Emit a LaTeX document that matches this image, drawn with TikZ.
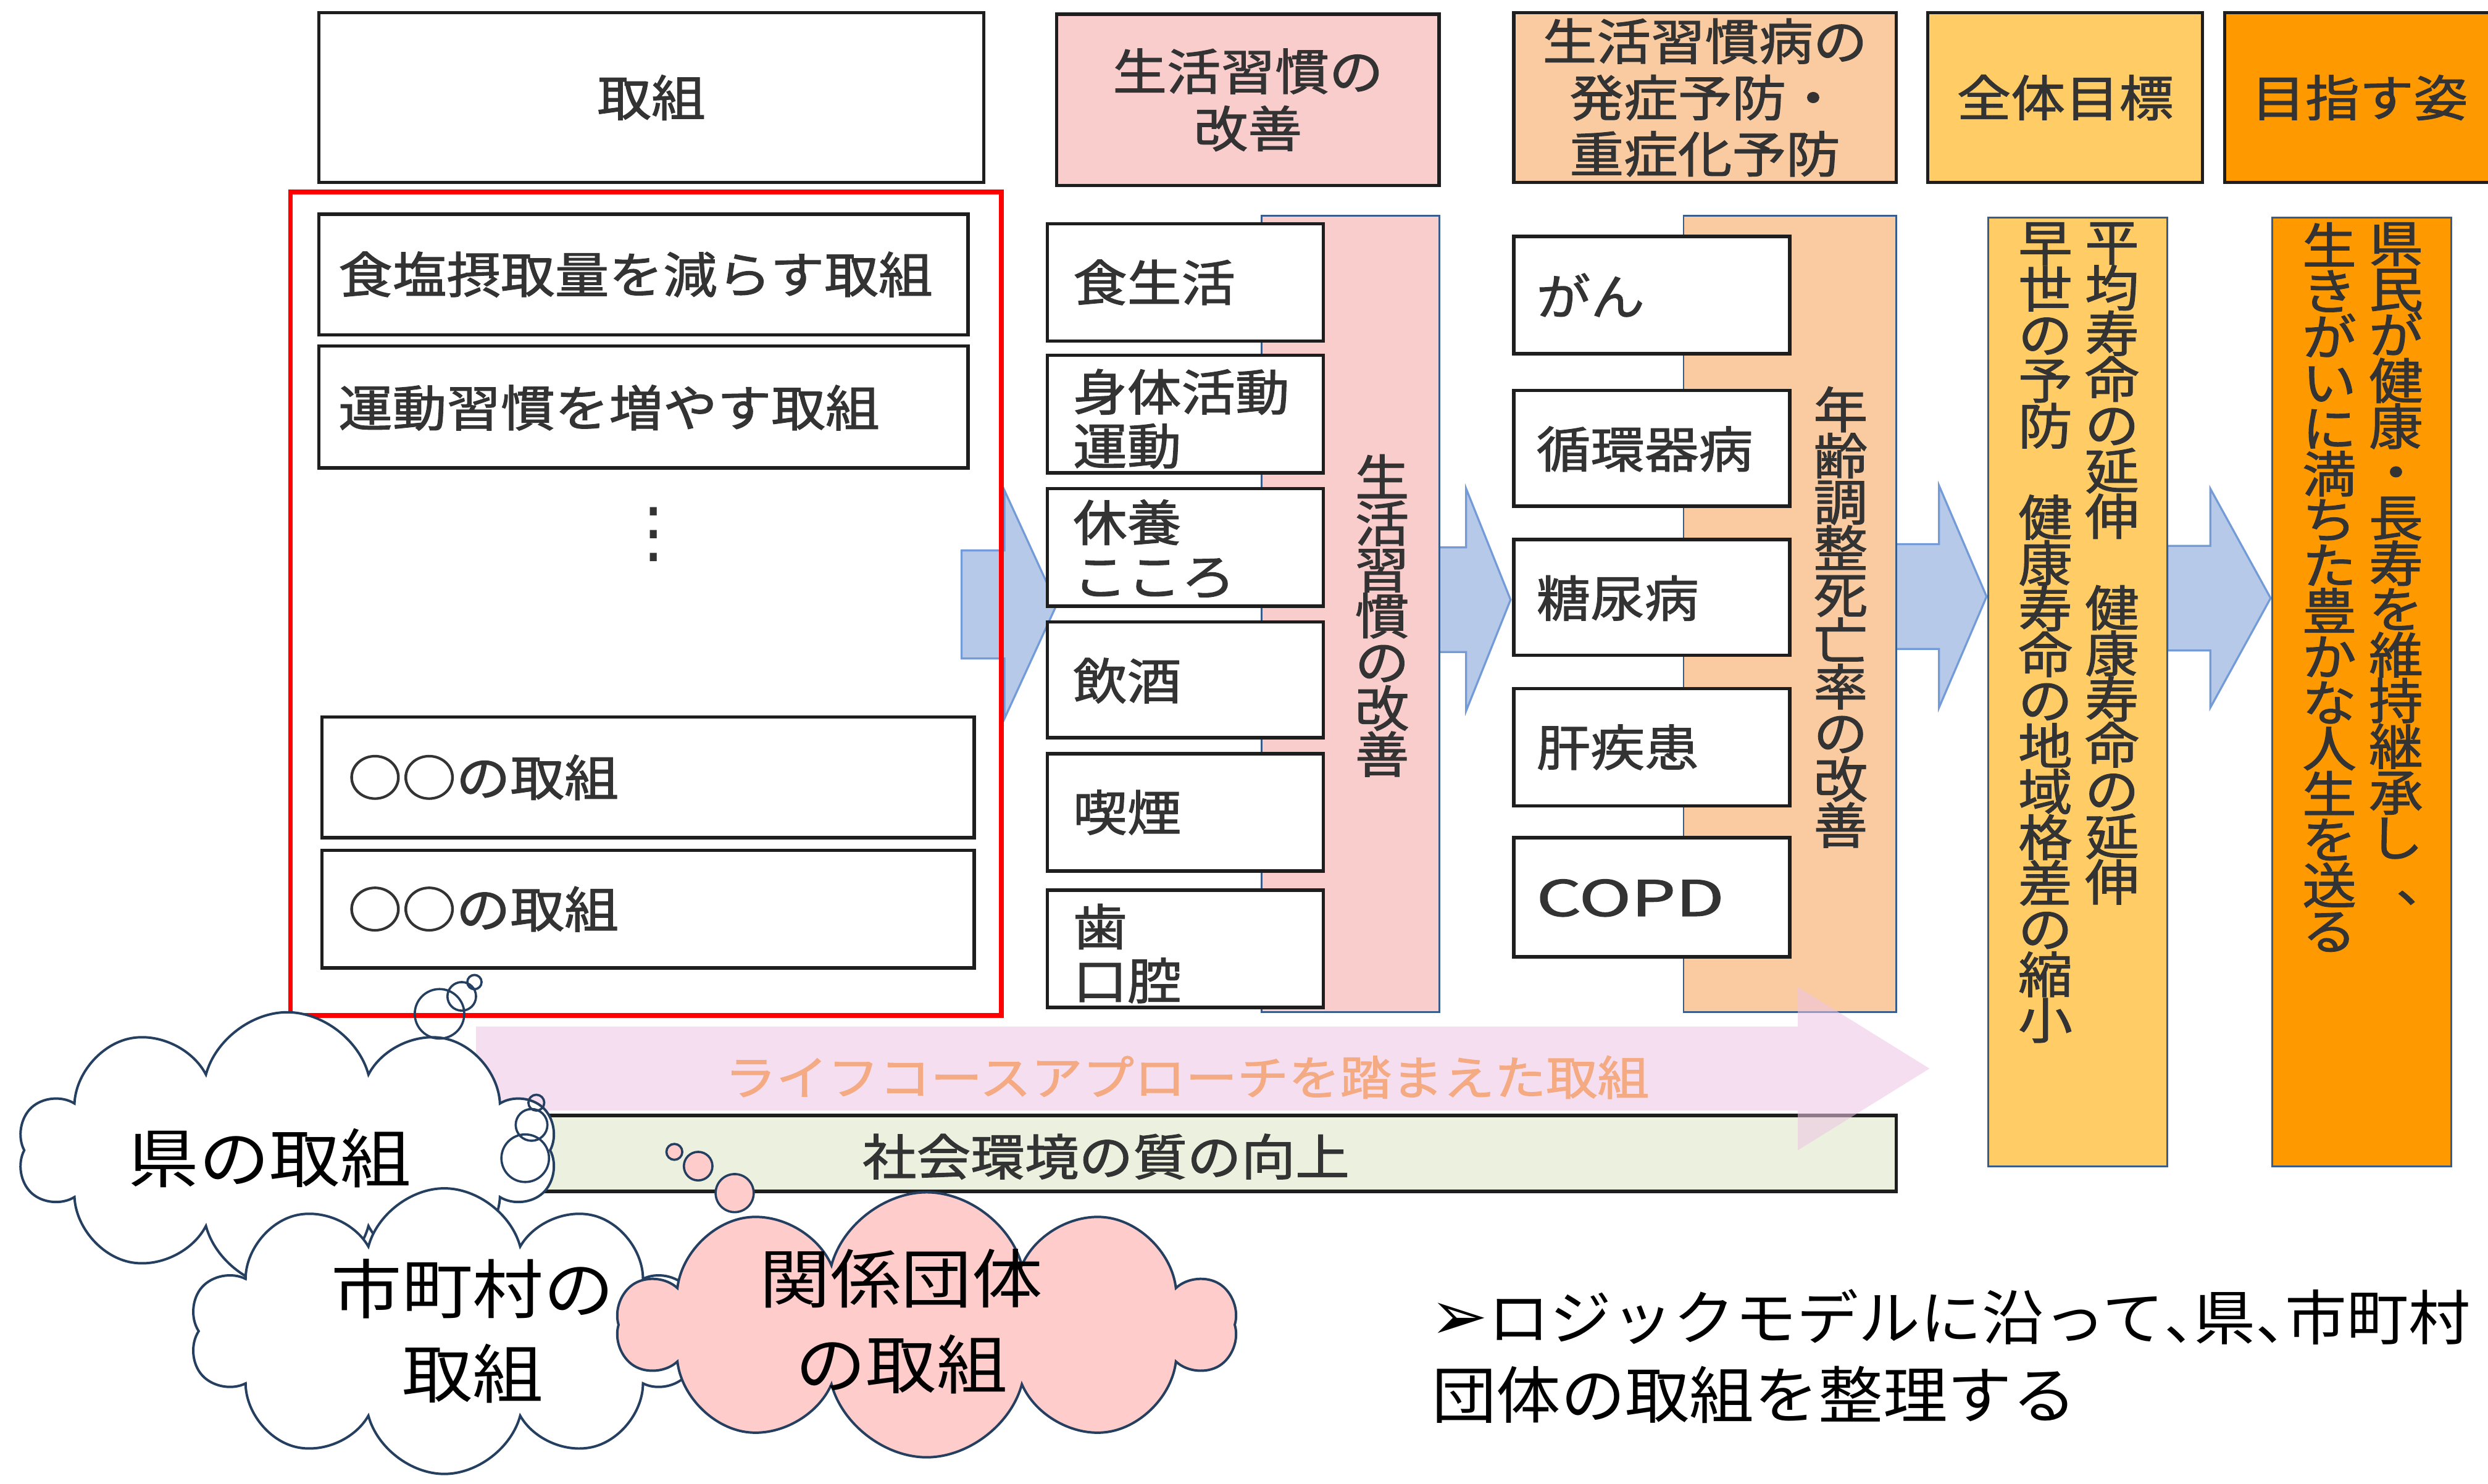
\documentclass[tikz,border=0pt]{standalone}
\usepackage{graphicx}
\usepackage{fontspec}
\usetikzlibrary{shapes.symbols}
\setmainfont{Noto Sans CJK JP}[FakeStretch=1.1, FakeBold=1.5]
\newfontfamily\plainfont{Noto Sans CJK JP}[FakeStretch=1.1]
\newfontfamily\notefont{Noto Sans CJK JP}[FakeStretch=1.04]
\newfontfamily\symfont{DejaVu Sans}
\definecolor{ink}{HTML}{333333}
\definecolor{edge}{HTML}{1E1E1E}
\definecolor{pinkA}{RGB}{250,205,205}
\definecolor{peachA}{RGB}{250,203,160}
\definecolor{goalA}{RGB}{255,204,102}
\definecolor{orangeA}{RGB}{255,153,0}
\definecolor{greenA}{HTML}{EBF1DE}
\definecolor{blueF}{RGB}{182,201,232}
\definecolor{blueD}{RGB}{115,155,215}
\definecolor{navy}{HTML}{243F60}
\definecolor{lifeF}{RGB}{236,196,228}
\definecolor{lifeT}{RGB}{244,170,130}
\definecolor{cloudP}{RGB}{255,204,204}
\definecolor{barD}{HTML}{385D8A}
\newcommand{\bx}[6][]{\node[#1, minimum width={(#5-#3)*0.025cm}, minimum height={(#6-#4)*0.025cm}, inner sep=0pt] (#2) at ({(#3+#5)/2},{(#4+#6)/2}) {};}
\newcommand{\blockarrow}[6]{\filldraw[blarrow] (#1,{#4-#5}) -- (#2,{#4-#5}) -- (#2,{#4-#6}) -- (#3,#4) -- (#2,{#4+#6}) -- (#2,{#4+#5}) -- (#1,{#4+#5}) -- cycle;}
\newcommand{\vcomma}{\makebox[1em][l]{\hspace{0.5em}、}}
\begin{document}
\begin{tikzpicture}[x=0.025cm, y=-0.025cm,
  boxW/.style={draw=edge, line width=1.5pt, fill=white},
  barbox/.style={draw=barD, line width=0.8pt},
  blarrow/.style={fill=blueF, draw=blueD, line width=0.9pt},
  tx/.style={text=ink, inner sep=0pt, font=\fontsize{22.05pt}{24.19pt}\selectfont},
  vt/.style={text=ink, inner sep=0pt, align=center, font=\fontsize{22.05pt}{20.49pt}\selectfont},
  cloudS/.style={cloud, cloud puffs=10, cloud ignores aspect, draw=navy, line width=1.1pt, inner sep=0pt},
  bub/.style={draw=navy, line width=1pt},
  cloudtx/.style={text=black, inner sep=0pt, align=center, font=\plainfont\fontsize{28.8pt}{37.7pt}\selectfont}]
\useasboundingbox (0,0) rectangle (1568,935);
\fill[white] (0,0) rectangle (1568,935);
\begin{scope}
\clip (0,0) rectangle (1568,935);

% headers
\bx[boxW]{h1}{201}{8}{620}{115}
\node[tx] (h1t) at (h1) {取組};
\bx[boxW, fill=pinkA]{h2}{666}{9}{907}{117}
\node[tx, align=center, font=\fontsize{22.05pt}{25.61pt}\selectfont] (h2t) at (h2) {生活習慣の\\改善};
\bx[boxW, fill=peachA]{h3}{954}{8}{1195}{115}
\node[tx, align=center, font=\fontsize{22.05pt}{25.25pt}\selectfont] (h3t) at (h3) {生活習慣病の\\発症予防・\\重症化予防};
\bx[boxW, fill=goalA]{h4}{1215}{8}{1388}{115}
\node[tx] (h4t) at (h4) {全体目標};
\bx[boxW, fill=orangeA]{h5}{1402}{8}{1572}{115}
\node[tx] (h5t) at (h5) {目指す姿};

% blue block arrows
\blockarrow{606}{633}{666}{381}{34}{72}
\blockarrow{907}{924}{952}{378}{33}{70}
\blockarrow{1195}{1222}{1252}{376}{33}{70}
\blockarrow{1366}{1393}{1431}{377}{33}{69}

% red frame with measures
\bx[draw=red, line width=2.1pt]{redbox}{183}{121}{631}{640}
\bx[boxW]{a1}{201}{135}{610}{211}
\node[tx, anchor=west] (a1t) at (213,173) {食塩摂取量を減らす取組};
\bx[boxW]{a2}{201}{218}{610}{295}
\node[tx, anchor=west] (a2t) at (213,257) {運動習慣を増やす取組};
\node[tx, font=\symfont\fontsize{30pt}{30pt}\selectfont] (dots) at (412,337) {⋮};
\bx[boxW]{a3}{203}{452}{614}{528}
\node[tx, anchor=west] (a3t) at (219,490) {○○の取組};
\bx[boxW]{a4}{203}{536}{614}{610}
\node[tx, anchor=west] (a4t) at (219,573) {○○の取組};

% column 2
\bx[barbox, fill=pinkA]{pb}{795}{136}{907}{638}
\node[vt, font=\fontsize{22.05pt}{20.7pt}\selectfont] (pbt) at (871,388) {生\\活\\習\\慣\\の\\改\\善};
\bx[boxW]{b1}{660}{141}{834}{215}
\node[tx, anchor=west] (b1t) at (676,178) {食生活};
\bx[boxW]{b2}{660}{224}{834}{298}
\node[tx, anchor=west, align=left] (b2t) at (676,264) {身体活動\\運動};
\bx[boxW]{b3}{660}{308}{834}{382}
\node[tx, anchor=west, align=left] (b3t) at (676,346) {休養\\こころ};
\bx[boxW]{b4}{660}{392}{834}{465}
\node[tx, anchor=west] (b4t) at (676,429) {飲酒};
\bx[boxW]{b5}{660}{475}{834}{549}
\node[tx, anchor=west] (b5t) at (676,512) {喫煙};
\bx[boxW]{b6}{660}{561}{834}{635}
\node[tx, anchor=west, align=left] (b6t) at (676,601) {歯\\口腔};

% column 3
\bx[barbox, fill=peachA]{qb}{1061}{136}{1195}{638}
\node[vt, font=\fontsize{22.05pt}{20.7pt}\selectfont] (qbt) at (1160,389) {年\\齢\\調\\整\\死\\亡\\率\\の\\改\\善};
\bx[boxW]{c1}{954}{149}{1128}{223}
\node[tx, anchor=west] (c1t) at (968,186) {がん};
\bx[boxW]{c2}{954}{246}{1128}{319}
\node[tx, anchor=west] (c2t) at (968,283) {循環器病};
\bx[boxW]{c3}{954}{340}{1128}{413}
\node[tx, anchor=west] (c3t) at (968,377) {糖尿病};
\bx[boxW]{c4}{954}{434}{1128}{508}
\node[tx, anchor=west] (c4t) at (968,471) {肝疾患};
\bx[boxW]{c5}{954}{528}{1128}{603}
\node[tx, anchor=west] (c5t) at (968,566) {\scalebox{1.3}[1]{COPD}};

% column 4
\bx[barbox, fill=goalA]{gb}{1253}{137}{1366}{735}
\node[vt, anchor=north] (gbt1) at (1331,140) {平\\均\\寿\\命\\の\\延\\伸\\　\\健\\康\\寿\\命\\の\\延\\伸};
\node[vt, anchor=north] (gbt2) at (1289,140) {早\\世\\の\\予\\防\\　\\健\\康\\寿\\命\\の\\地\\域\\格\\差\\の\\縮\\小};

% column 5
\bx[barbox, fill=orangeA]{ob}{1432}{137}{1545}{735}
\node[vt, anchor=north] (obt1) at (1510,140) {県\\民\\が\\健\\康\\・\\長\\寿\\を\\維\\持\\継\\承\\し\\\vcomma};
\node[vt, anchor=north] (obt2) at (1468,140) {生\\き\\が\\い\\に\\満\\ち\\た\\豊\\か\\な\\人\\生\\を\\送\\る};

% social environment bar
\bx[draw=edge, line width=1.5pt, fill=greenA]{gbar}{340}{703}{1195}{751}
\node[tx] (gbart) at (697,729) {社会環境の質の向上};

% life course arrow
\fill[lifeF, fill opacity=0.55] (300,647) -- (1133,647) -- (1133,622) -- (1216,673.5) -- (1133,725) -- (1133,700) -- (300,700) -- cycle;
\node[tx, text=lifeT, font=\fontsize{20.98pt}{22pt}\selectfont] (lifet) at (748,679) {ライフコースアプローチを踏まえた取組};

% clouds
\node[cloudS, fill=white, minimum width=339*0.025cm, minimum height=174*0.025cm] (cl1) at (181,725) {};
\node[cloudtx] (cl1t) at (170,730) {県の取組};
\draw[bub] (277,639) circle[radius=15.6];
\draw[bub] (291,628) circle[radius=9];
\draw[bub] (299,619) circle[radius=4.5];
\draw[bub] (331,730) circle[radius=15];
\draw[bub] (335,709) circle[radius=10];
\draw[bub] (338,695) circle[radius=5];

\node[cloudS, fill=white, minimum width=321*0.025cm, minimum height=180*0.025cm] (cl2) at (280,839) {};
\node[cloudtx] (cl2t) at (298,839) {市町村の\\取組};

\draw[bub, fill=cloudP] (425,726) circle[radius=5];
\draw[bub, fill=cloudP] (440,735) circle[radius=9];
\draw[bub, fill=cloudP] (463,752) circle[radius=12];
\node[cloudS, fill=cloudP, minimum width=388*0.025cm, minimum height=167*0.025cm] (cl3) at (584,835) {};
\node[cloudtx, font=\plainfont\fontsize{28.8pt}{38.41pt}\selectfont] (cl3t) at (568,833) {関係団体\\の取組};

% note
\node[anchor=west, inner sep=0pt, text=black, font=\notefont\fontsize{26.6pt}{34pt}\selectfont] (note1) at (901,830) {{\symfont\fontsize{31pt}{31pt}\selectfont ➢}ロジックモデルに沿って\makebox[0.5em][l]{、}県\makebox[0.5em][l]{、}市町村};
\node[anchor=west, inner sep=0pt, text=black, font=\notefont\fontsize{27.8pt}{34pt}\selectfont] (note2) at (902,879) {団体の取組を整理する};
\end{scope}
\end{tikzpicture}
\end{document}
